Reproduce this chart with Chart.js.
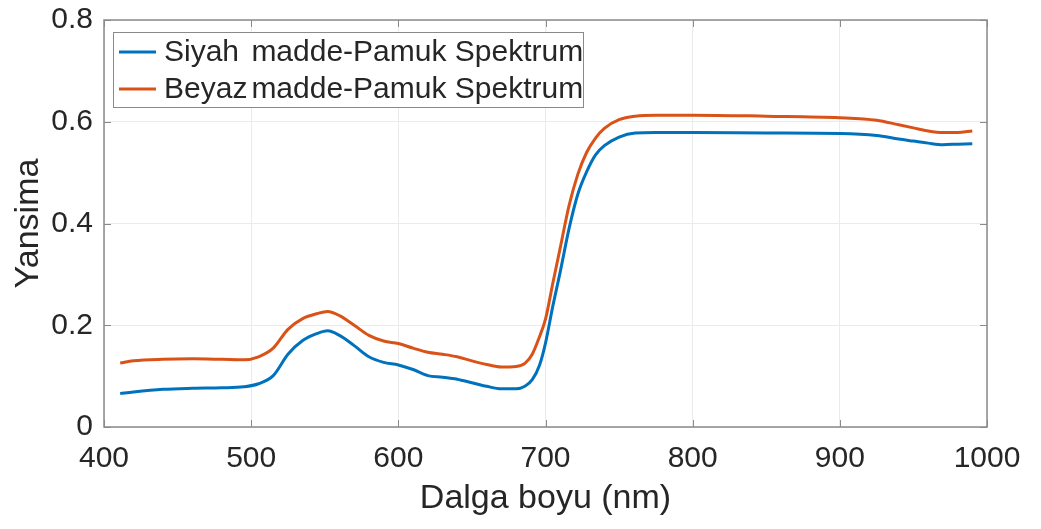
<!DOCTYPE html>
<html>
<head>
<meta charset="utf-8">
<script src="https://cdn.jsdelivr.net/npm/chart.js@4"></script>
<style>
  html, body { margin:0; padding:0; background:#fff; }
  #wrap { width:1041px; height:529px; }
</style>
</head>
<body>
<div id="wrap"><canvas id="c" width="1041" height="529"></canvas></div>
<script>
// ===============================
// Datos
// ===============================
const wavelengths = [411, 420, 440, 460, 480, 495, 505, 515, 525, 535, 545, 552, 560, 570, 580, 590, 600, 610, 620, 630,
  640, 650, 660, 670, 680, 686, 691, 696, 700, 705, 710, 716, 722, 728, 734, 740, 750, 761, 775, 800,
  850, 900, 925, 940, 950, 960, 970, 980, 990];

const siyah = [0.066, 0.069, 0.074, 0.076, 0.077, 0.079, 0.085, 0.101, 0.143, 0.170, 0.184, 0.189, 0.180, 0.160, 0.138, 0.127, 0.122, 0.113, 0.101, 0.098,
  0.094, 0.087, 0.080, 0.075, 0.075, 0.080, 0.093, 0.122, 0.165, 0.238, 0.305, 0.390, 0.458, 0.502, 0.535, 0.553, 0.570, 0.578, 0.579, 0.579,
  0.578, 0.577, 0.573, 0.566, 0.562, 0.558, 0.555, 0.556, 0.557];

const beyaz = [0.126, 0.130, 0.133, 0.134, 0.133, 0.132, 0.138, 0.155, 0.192, 0.213, 0.223, 0.227, 0.219, 0.200, 0.180, 0.169, 0.164, 0.155, 0.147, 0.143,
  0.138, 0.130, 0.123, 0.118, 0.119, 0.125, 0.143, 0.178, 0.212, 0.283, 0.352, 0.435, 0.497, 0.540, 0.568, 0.587, 0.604, 0.611, 0.613, 0.613,
  0.611, 0.608, 0.603, 0.594, 0.588, 0.582, 0.579, 0.579, 0.582];

const seriesLabels = ["Siyah madde-Pamuk Spektrum", "Beyaz madde-Pamuk Spektrum"];
const xTicks = [400, 500, 600, 700, 800, 900, 1000];
const yTicks = [0, 0.2, 0.4, 0.6, 0.8];

const FONT = "'Liberation Sans', Arial, sans-serif";
const TXT = "#262626";
const BLUE = "#0072BD", ORANGE = "#D95319";

const toPts = ys => wavelengths.map((x, i) => ({ x, y: ys[i] }));

// Caja de ejes estilo MATLAB + ticks hacia adentro + leyenda interna
const boxPlugin = {
  id: "box",
  afterDraw(chart) {
    const { ctx, chartArea: a, scales: { x, y } } = chart;
    ctx.save();
    ctx.strokeStyle = "#8a8a8a";
    ctx.lineWidth = 1.5;
    ctx.strokeRect(a.left, a.top, a.right - a.left, a.bottom - a.top);
    ctx.lineWidth = 1;
    const L = 7;
    ctx.beginPath();
    xTicks.forEach(v => {
      const px = Math.round(x.getPixelForValue(v)) + 0.5;
      ctx.moveTo(px, a.bottom); ctx.lineTo(px, a.bottom - L);
      ctx.moveTo(px, a.top); ctx.lineTo(px, a.top + L);
    });
    yTicks.forEach(v => {
      const py = Math.round(y.getPixelForValue(v)) + 0.5;
      ctx.moveTo(a.left, py); ctx.lineTo(a.left + L, py);
      ctx.moveTo(a.right, py); ctx.lineTo(a.right - L, py);
    });
    ctx.stroke();

    const lx = a.left + 9, ly = a.top + 12, lw = 470, lh = 75;
    ctx.fillStyle = "#fff";
    ctx.fillRect(lx, ly, lw, lh);
    ctx.strokeStyle = "#8a8a8a";
    ctx.strokeRect(lx + 0.5, ly + 0.5, lw, lh);
    ctx.font = `30px ${FONT}`;
    ctx.textBaseline = "middle";
    const tx = lx + 51;
    const restX = tx + ctx.measureText("Siyah ").width + 4;
    chart.data.datasets.forEach((ds, i) => {
      const cy = ly + 20 + i * 37;
      ctx.strokeStyle = ds.borderColor;
      ctx.lineWidth = 3;
      ctx.beginPath(); ctx.moveTo(lx + 6, cy); ctx.lineTo(lx + 43, cy); ctx.stroke();
      ctx.fillStyle = TXT;
      const sp = ds.label.indexOf(" ");
      ctx.fillText(ds.label.slice(0, sp), tx, cy + 1);
      ctx.fillText(ds.label.slice(sp + 1), restX, cy + 1);
    });
    ctx.restore();
  }
};

new Chart(document.getElementById("c"), {
  type: "line",
  data: {
    datasets: [
      { label: seriesLabels[0], data: toPts(siyah), borderColor: BLUE, borderWidth: 3, pointRadius: 0, cubicInterpolationMode: "monotone", fill: false },
      { label: seriesLabels[1], data: toPts(beyaz), borderColor: ORANGE, borderWidth: 3, pointRadius: 0, cubicInterpolationMode: "monotone", fill: false }
    ]
  },
  options: {
    responsive: false,
    animation: false,
    layout: { padding: { left: 0, top: 0, right: 54, bottom: 0 } },
    plugins: { legend: { display: false }, tooltip: { enabled: false } },
    scales: {
      x: {
        type: "linear", min: 400, max: 1000,
        afterBuildTicks: s => { s.ticks = xTicks.map(v => ({ value: v })); },
        afterFit: s => { s.height = 102; },
        grid: { color: "#ebebeb", drawTicks: false },
        border: { display: false },
        ticks: { color: TXT, font: { family: FONT, size: 30 }, padding: 14, maxRotation: 0, callback: v => String(v) },
        title: { display: true, text: "Dalga boyu (nm)", color: TXT, font: { family: FONT, size: 34 }, padding: { top: 0, bottom: 10 } }
      },
      y: {
        min: 0, max: 0.8,
        afterBuildTicks: s => { s.ticks = yTicks.map(v => ({ value: v })); },
        afterFit: s => { s.width = 104; s.paddingTop = 20; },
        grid: { color: "#ebebeb", drawTicks: false },
        border: { display: false },
        ticks: { color: TXT, font: { family: FONT, size: 30 }, padding: 11, callback: v => String(+v.toFixed(1)) },
        title: { display: true, text: "Yansima", color: TXT, font: { family: FONT, size: 34 }, padding: { top: 8, bottom: 0 } }
      }
    }
  },
  plugins: [boxPlugin]
});
</script>
</body>
</html>
